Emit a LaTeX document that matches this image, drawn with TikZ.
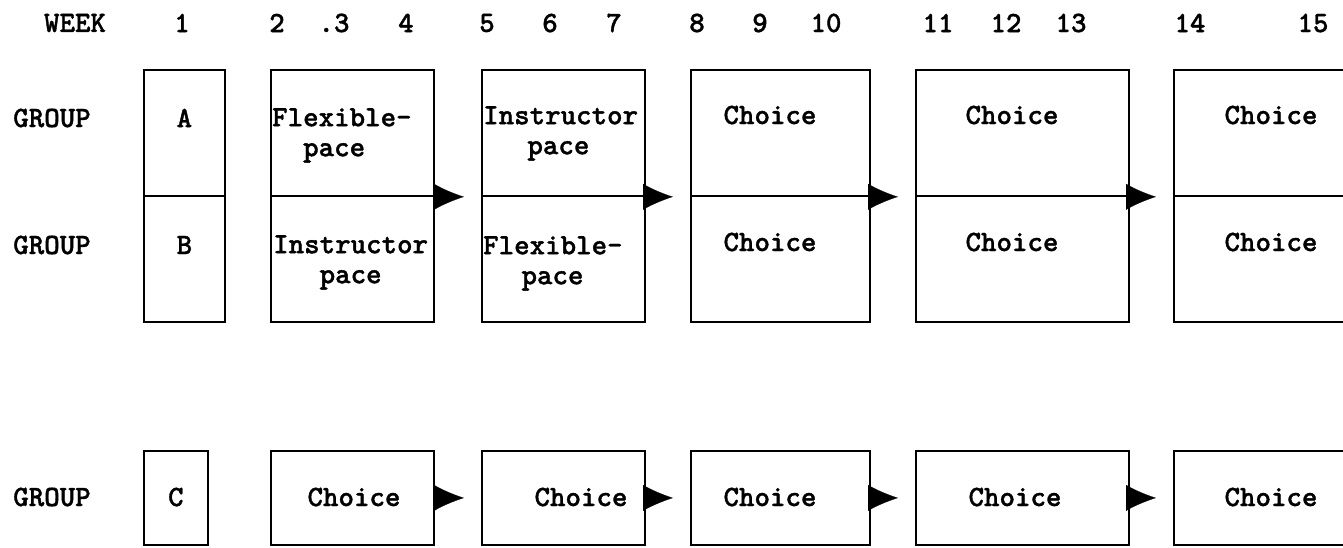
\documentclass[tikz,border=0pt]{standalone}
\usepackage{fontspec}
\newfontfamily\tw{lmmonolt10-bold.otf}[FakeBold=1.2]
\usetikzlibrary{arrows.meta}
\begin{document}
\begin{tikzpicture}[x=1pt,y=-1pt,
  box/.style={draw, line width=1.8pt, inner sep=0pt, anchor=north west},
  txt/.style={font=\tw\fontsize{29.5}{30}\selectfont, inner sep=0pt},
  two/.style={txt, align=left, anchor=north west},
  flow/.style={line width=0.2pt, -{Latex[length=30pt,width=26pt]}, shorten >=17pt}]
\useasboundingbox (0,0) rectangle (1343,547);
\clip (0,0) rectangle (1343,547);
% boxes
\node[box, minimum width=81pt, minimum height=126pt] (u1) at (143,69) {};
\node[box, minimum width=81pt, minimum height=126pt] (l1) at (143,195) {};
\node[box, minimum width=64pt, minimum height=94pt] (c1) at (143,450) {};
\foreach \n/\x/\w in {2/270/163, 3/481/163, 4/690/179, 5/915/213, 6/1173/185} {
  \node[box, minimum width=\w pt, minimum height=126pt] (u\n) at (\x,69) {};
  \node[box, minimum width=\w pt, minimum height=126pt] (l\n) at (\x,195) {};
  \node[box, minimum width=\w pt, minimum height=94pt] (c\n) at (\x,450) {};
}
% arrows
\foreach \a/\b in {2/3, 3/4, 4/5, 5/6} {
  \draw[flow] (u\a.south east) -- (u\b.south west);
  \draw[flow] (c\a.east) -- (c\b.west);
}
% header
\node[txt] (week) at (75,23) {WEEK};
\foreach \t/\x in {1/182, 2/277, 4/406, 5/487, 6/550, 7/614, 8/697, 9/760, 10/826, 11/938, 12/1006, 13/1071, 14/1190, 15/1313} {
  \node[txt] (w\t) at (\x,23) {\t};
}
\node[txt] (w3) at (334,23) {.3};
% row labels
\node[txt] (ga) at (52,118) {GROUP};
\node[txt] (gb) at (52,245) {GROUP};
\node[txt] (gc) at (52,497) {GROUP};
\node[txt] (ta) at (u1.center |- 0,118) {A};
\node[txt] (tb) at (l1.center |- 0,245) {B};
\node[txt] (tc) at (c1.center |- 0,497) {C};
% columns 2 and 3
\node[two] (t2a) at (272,108) {Flexible-\\\hspace*{1.05em}pace};
\node[two] (t2c) at (273,235) {Instructor\\\hspace*{1.575em}pace};
\node[two] (t3a) at (483,106) {Instructor\\\hspace*{1.5em}pace};
\node[two] (t3c) at (483,236) {Flexible-\\\hspace*{1.3em}pace};
% choice columns
\foreach \n/\x in {4/770, 5/1012, 6/1271} {
  \node[txt] (cu\n) at (\x,115) {Choice};
  \node[txt] (cl\n) at (\x,242) {Choice};
}
\foreach \n/\x in {2/354, 3/581, 4/770, 5/1015, 6/1271} {
  \node[txt] (cc\n) at (\x,497) {Choice};
}
\end{tikzpicture}
\end{document}
